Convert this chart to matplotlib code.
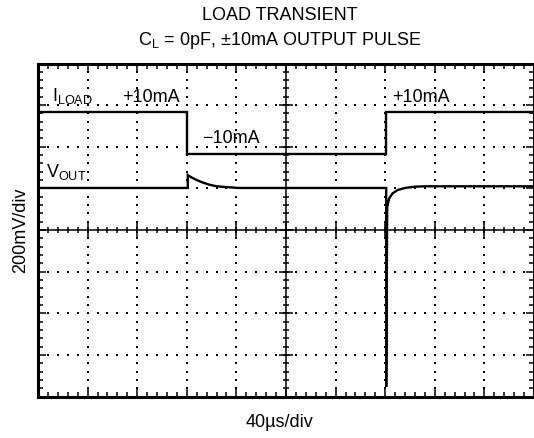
import numpy as np
import matplotlib
matplotlib.use("Agg")
import matplotlib.pyplot as plt
from matplotlib.ticker import MultipleLocator

plt.rcParams['font.family'] = ['Liberation Sans', 'DejaVu Sans']
plt.rcParams['mathtext.fontset'] = 'custom'
plt.rcParams['mathtext.rm'] = 'Liberation Sans'
plt.rcParams['mathtext.it'] = 'Liberation Sans'

# ---- data (screen divisions: x 0..10, y 0..8) ----
iload_x = [0.0, 3.0, 3.0, 7.02, 7.02, 10.0]
iload_y = [6.84, 6.84, 5.83, 5.83, 6.84, 6.84]

vout_x = [0.0, 3.02, 3.02, 3.1, 3.2, 3.3, 3.45, 3.6, 3.8, 4.05, 4.3,
          7.02, 7.02, 7.04, 7.08, 7.15, 7.25, 7.4, 7.6, 7.8, 10.0]
vout_y = [5.01, 5.01, 5.32, 5.26, 5.20, 5.15, 5.09, 5.05, 5.03, 5.01, 5.01,
          5.01, 0.23, 4.55, 4.76, 4.88, 4.96, 5.01, 5.04, 5.05, 5.05]

title_lines = ["LOAD TRANSIENT", r"C$_\mathrm{L}$ = 0pF, ±10mA OUTPUT PULSE"]
xlabel = "40µs/div"
ylabel = "200mV/div"

W, H = 534, 438
fig = plt.figure(figsize=(W / 100, H / 100), dpi=100)
left, right, top, bottom = 38.0, 534.0, 63.5, 396.5
ax = fig.add_axes([left / W, 1 - bottom / H, (right - left) / W, (bottom - top) / H])
ax.set_xlim(0, 10)
ax.set_ylim(0, 8)

for s in ax.spines.values():
    s.set_linewidth(2.2)

ax.xaxis.set_major_locator(MultipleLocator(1))
ax.xaxis.set_minor_locator(MultipleLocator(0.2))
ax.yaxis.set_major_locator(MultipleLocator(1))
ax.yaxis.set_minor_locator(MultipleLocator(0.2))
ax.tick_params(which='both', direction='in', top=True, right=True,
               labelbottom=False, labelleft=False, width=1.1, color='k')
ax.tick_params(which='major', length=5.8)
ax.tick_params(which='minor', length=3.6)

# dotted grid
gx = np.arange(0.2, 10, 0.2)
gy = np.arange(0.2, 8, 0.2)
for k in [1, 2, 3, 4, 6, 7, 8, 9]:
    ax.plot(np.full_like(gy, k), gy, ls='none', marker='s', ms=1.5, mew=0,
            color='k', zorder=1)
for k in [1, 2, 3, 5, 6, 7]:
    ax.plot(gx, np.full_like(gx, k), ls='none', marker='s', ms=1.5, mew=0,
            color='k', zorder=1)

# center crosshair with ticks
ax.axhline(4, color='k', lw=1.1, zorder=2)
ax.axvline(5, color='k', lw=1.1, zorder=2)
mx = np.arange(0.2, 10, 0.2)
maj_x = np.arange(1, 10, 1)
ax.plot(mx, np.full_like(mx, 4), ls='none', marker='|', ms=4.5, mew=1.1, color='k', zorder=2)
ax.plot(maj_x, np.full_like(maj_x, 4.0), ls='none', marker='|', ms=9.5, mew=1.1, color='k', zorder=2)
my = np.arange(0.2, 8, 0.2)
maj_y = np.arange(1, 8, 1)
ax.plot(np.full_like(my, 5), my, ls='none', marker='_', ms=4.5, mew=1.1, color='k', zorder=2)
ax.plot(np.full_like(maj_y, 5.0), maj_y, ls='none', marker='_', ms=9.5, mew=1.1, color='k', zorder=2)

# traces
ax.plot(iload_x, iload_y, color='k', lw=1.7, zorder=4, solid_joinstyle='miter')
ax.plot(vout_x, vout_y, color='k', lw=1.7, zorder=4, solid_joinstyle='miter')

fs = 13
ax.text(0.29, 7.1, r"I$_\mathrm{LOAD}$", fontsize=fs, ha='left', va='baseline', zorder=5)
ax.text(1.69, 7.07, "+10mA", fontsize=fs, ha='left', va='baseline', zorder=5)
ax.text(3.30, 6.09, "\u221210mA", fontsize=fs, ha='left', va='baseline', zorder=5)
ax.text(7.13, 7.07, "+10mA", fontsize=fs, ha='left', va='baseline', zorder=5)
ax.text(0.16, 5.27, r"V$_\mathrm{OUT}$", fontsize=fs, ha='left', va='baseline', zorder=5)

fig.text(280 / W, 1 - 20 / H, title_lines[0], fontsize=fs, ha='center', va='baseline')
fig.text(280 / W, 1 - 45 / H, title_lines[1], fontsize=fs, ha='center', va='baseline')
fig.text(279 / W, 1 - 427 / H, xlabel, fontsize=fs, ha='center', va='baseline')
fig.text(25 / W, 1 - 230 / H, ylabel, fontsize=fs, ha='center', va='baseline',
         rotation=90, rotation_mode='anchor')

fig.savefig("out.png", dpi=100)
